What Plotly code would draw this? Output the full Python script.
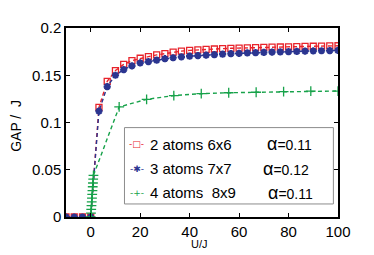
import plotly.graph_objects as go

# ---- data ----
u_main = [-10, -6.67, -3.33, 0, 3.33, 6.67, 10, 13.33, 16.67, 20, 23.33, 26.67, 30,
          33.33, 36.67, 40, 43.33, 46.67, 50, 53.33, 56.67, 60, 63.33, 66.67, 70,
          73.33, 76.67, 80, 83.33, 86.67, 90, 93.33, 96.67, 100]
gap_2atoms = [0, 0, 0, 0, 0.116, 0.1435, 0.155, 0.1615, 0.1655, 0.168, 0.1697, 0.1715,
              0.1728, 0.1745, 0.1755, 0.1763, 0.1769, 0.1774, 0.1778, 0.1782, 0.1785,
              0.1788, 0.179, 0.1793, 0.1795, 0.1797, 0.1799, 0.1801, 0.1803, 0.1805,
              0.1807, 0.1809, 0.181, 0.1812]
gap_3atoms = [0, 0, 0, 0, 0.112, 0.138, 0.150, 0.156, 0.160, 0.163, 0.1645, 0.166,
              0.1675, 0.1685, 0.1695, 0.1702, 0.1708, 0.1713, 0.1718, 0.1723, 0.1728,
              0.1732, 0.1736, 0.1739, 0.1742, 0.1745, 0.1747, 0.175, 0.1752, 0.1755,
              0.1757, 0.1759, 0.1761, 0.1763]
u_green = [0, 0.1, 0.2, 0.3, 0.4, 0.5, 0.6, 0.7, 0.8, 0.9, 1.0, 1.1,
           11.5, 22.6, 33.6, 44.7, 55.8, 66.9, 78, 89, 100]
gap_4atoms = [0, 0.004, 0.008, 0.012, 0.016, 0.020, 0.024, 0.028, 0.032, 0.036, 0.040, 0.044,
              0.1165, 0.1245, 0.1285, 0.1305, 0.1315, 0.132, 0.1327, 0.1332, 0.1333]

names = ["2 atoms 6x6", "3 atoms 7x7", "4 atoms\u00a0\u00a08x9"]
alphas = ["0.11", "0.12", "0.11"]
x_ticks = [0, 20, 40, 60, 80, 100]
y_ticks = [0, 0.05, 0.1, 0.15, 0.2]
y_ticktext = ["0", "0.05", "0.1", "0.15", "0.2"]

RED = "#e8232b"
BLUE = "#2b3590"
GREEN = "#17a24a"
COLORS = [RED, BLUE, GREEN]
SAMPLE_SYMBOLS = ["\u25a1", "\u2731", "+"]
FONT = "Liberation Sans, Arial, Helvetica, sans-serif"

fig = go.Figure()
fig.add_trace(go.Scatter(
    x=u_main, y=gap_2atoms, name=names[0], mode="lines+markers",
    line=dict(color=RED, width=1.4, dash="4px,3px"),
    marker=dict(symbol="square-open", size=6, color=RED, line=dict(width=1.3, color=RED))))
fig.add_trace(go.Scatter(
    x=u_main, y=gap_3atoms, name=names[1], mode="lines+markers",
    line=dict(color=BLUE, width=1.4, dash="4px,3px"),
    marker=dict(symbol="asterisk-open", size=6, color=BLUE, line=dict(width=2.2, color=BLUE))))
fig.add_trace(go.Scatter(
    x=u_green, y=gap_4atoms, name=names[2], mode="lines+markers",
    line=dict(color=GREEN, width=1.4, dash="4px,3px"),
    marker=dict(symbol="cross-thin-open", size=7, color=GREEN, line=dict(width=1.3, color=GREEN))))

axis_common = dict(
    showline=True, linecolor="black", linewidth=1.5, mirror="allticks",
    ticks="inside", ticklen=4, tickcolor="black", tickwidth=1,
    showgrid=False, zeroline=False,
    tickfont=dict(family=FONT, size=15, color="black"),
)
fig.update_xaxes(range=[-10, 100], tickvals=x_ticks, **axis_common)
fig.update_yaxes(range=[0, 0.2], tickvals=y_ticks, ticktext=y_ticktext, **axis_common)

# legend box (drawn manually to match the compact original legend)
fig.add_shape(type="rect", xref="paper", yref="paper", x0=0.215, x1=0.983, y0=0.069, y1=0.473,
              line=dict(color="#8c8c8c", width=1), fillcolor="white", layer="above")

row_y = [0.384, 0.254, 0.128]
alpha_x = [0.732, 0.716, 0.7345]
for i in range(3):
    fig.add_annotation(x=0.2607, y=row_y[i], xref="paper", yref="paper", showarrow=False,
                       text="-" + SAMPLE_SYMBOLS[i] + "-", xanchor="center", yanchor="middle",
                       font=dict(family="DejaVu Sans, sans-serif", size=9, color=COLORS[i]))
    fig.add_annotation(x=0.2997, y=row_y[i], xref="paper", yref="paper", showarrow=False,
                       text=names[i], xanchor="left", yanchor="middle",
                       font=dict(family=FONT, size=15, color="black"))
    fig.add_annotation(x=alpha_x[i], y=row_y[i], xref="paper", yref="paper", showarrow=False,
                       text="<span style='font-size:18px'>\u03b1</span>=" + alphas[i],
                       xanchor="left", yanchor="middle",
                       font=dict(family=FONT, size=14, color="black"))

fig.add_annotation(x=0.49, y=-0.142, xref="paper", yref="paper", showarrow=False,
                   text="U/J", xanchor="center", yanchor="middle",
                   font=dict(family=FONT, size=11, color="black"))
fig.add_annotation(x=-0.182, y=0.485, xref="paper", yref="paper", showarrow=False,
                   text="GAP /\u00a0\u00a0J", textangle=-90, xanchor="center", yanchor="middle",
                   font=dict(family=FONT, size=14, color="black"))

# page body has an 8px default margin; size the figure so the plot area lands where the original is
fig.update_layout(
    width=366, height=247,
    margin=dict(l=58, r=36, t=11, b=38),
    plot_bgcolor="white", paper_bgcolor="white",
    showlegend=False,
)

fig.write_html("out.html")
